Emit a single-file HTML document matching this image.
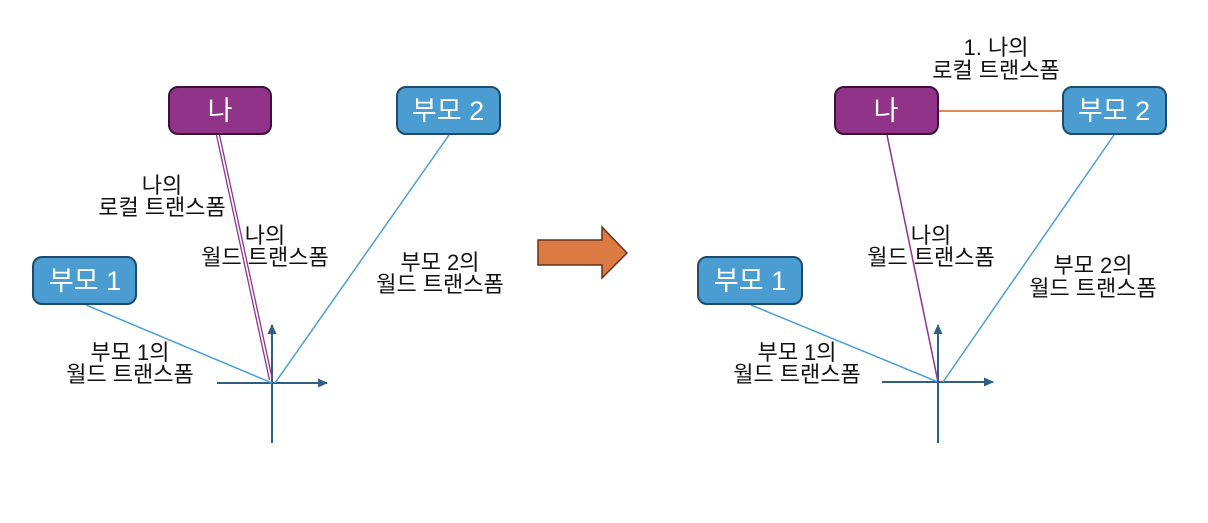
<!DOCTYPE html>
<html><head><meta charset="utf-8"><style>
body{margin:0;background:#fff;}
svg text{font-family:"Liberation Sans","Noto Sans CJK KR",sans-serif;}
</style></head><body>
<svg width="1208" height="518" viewBox="0 0 1208 518" xmlns="http://www.w3.org/2000/svg">
<defs>
<marker id="ah" markerWidth="12" markerHeight="12" refX="9" refY="6" orient="auto" markerUnits="userSpaceOnUse"><path d="M0,1.5 L10,6 L0,10.5 Z" fill="#2f5f85"/></marker>
</defs>
<!-- LEFT -->
<line x1="272" y1="443" x2="272" y2="325" stroke="#2f5f85" stroke-width="2" marker-end="url(#ah)"/>
<line x1="217" y1="383" x2="327" y2="383" stroke="#2f5f85" stroke-width="2" marker-end="url(#ah)"/>
<line x1="86" y1="305" x2="272" y2="383" stroke="#4a9fd6" stroke-width="1.5"/>
<line x1="449" y1="135" x2="275" y2="383" stroke="#4a9fd6" stroke-width="1.5"/>
<line x1="216.5" y1="135" x2="269.5" y2="380" stroke="#8e3390" stroke-width="1.3"/>
<line x1="219.5" y1="135" x2="272.5" y2="380" stroke="#8e3390" stroke-width="1.3"/>
<rect x="169" y="87" width="102" height="47" rx="9" fill="#92338a" stroke="#3d1238" stroke-width="2"/>
<text x="220" y="120" font-size="27" fill="#fff" text-anchor="middle">나</text>
<rect x="397" y="87" width="103" height="47" rx="9" fill="#4a9cd1" stroke="#1e4b6b" stroke-width="2"/>
<text x="448" y="120" font-size="27" fill="#fff" text-anchor="middle">부모 2</text>
<rect x="33" y="257" width="103" height="47" rx="9" fill="#4a9cd1" stroke="#1e4b6b" stroke-width="2"/>
<text x="85" y="290" font-size="27" fill="#fff" text-anchor="middle">부모 1</text>
<g font-size="22" fill="#111" text-anchor="middle">
<text x="162" y="193">나의</text><text x="162" y="215">로컬 트랜스폼</text>
<text x="265" y="243">나의</text><text x="265" y="265">월드 트랜스폼</text>
<text x="440" y="270">부모 2의</text><text x="440" y="292">월드 트랜스폼</text>
<text x="130" y="360">부모 1의</text><text x="130" y="382">월드 트랜스폼</text>
</g>
<!-- ARROW -->
<path d="M538,240 L602,240 L602,227 L627,253 L602,278 L602,265 L538,265 Z" fill="#db7a42" stroke="#6b3116" stroke-width="1.5"/>
<!-- RIGHT -->
<line x1="938" y1="443" x2="938" y2="325" stroke="#2f5f85" stroke-width="2" marker-end="url(#ah)"/>
<line x1="882" y1="382" x2="993" y2="382" stroke="#2f5f85" stroke-width="2" marker-end="url(#ah)"/>
<line x1="751" y1="305" x2="938" y2="382" stroke="#4a9fd6" stroke-width="1.5"/>
<line x1="1114" y1="135" x2="943" y2="382" stroke="#4a9fd6" stroke-width="1.5"/>
<line x1="887" y1="135" x2="938" y2="382" stroke="#8e3390" stroke-width="1.5"/>
<line x1="938" y1="111" x2="1063" y2="111" stroke="#db7a42" stroke-width="1.8"/>
<rect x="835" y="87" width="103" height="47" rx="9" fill="#92338a" stroke="#3d1238" stroke-width="2"/>
<text x="886" y="120" font-size="27" fill="#fff" text-anchor="middle">나</text>
<rect x="1063" y="87" width="103" height="47" rx="9" fill="#4a9cd1" stroke="#1e4b6b" stroke-width="2"/>
<text x="1114" y="120" font-size="27" fill="#fff" text-anchor="middle">부모 2</text>
<rect x="698" y="257" width="104" height="47" rx="9" fill="#4a9cd1" stroke="#1e4b6b" stroke-width="2"/>
<text x="750" y="290" font-size="27" fill="#fff" text-anchor="middle">부모 1</text>
<g font-size="22" fill="#111" text-anchor="middle">
<text x="996" y="55">1. 나의</text><text x="996" y="78">로컬 트랜스폼</text>
<text x="931" y="243">나의</text><text x="931" y="265">월드 트랜스폼</text>
<text x="1093" y="273">부모 2의</text><text x="1093" y="296">월드 트랜스폼</text>
<text x="797" y="360">부모 1의</text><text x="797" y="382">월드 트랜스폼</text>
</g>
</svg>
</body></html>
